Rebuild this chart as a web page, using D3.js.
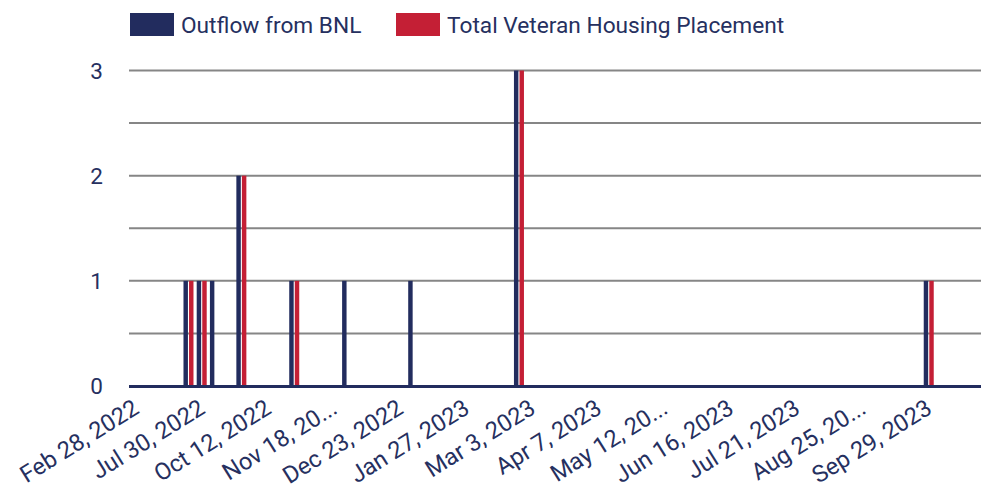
<!DOCTYPE html>
<html>
<head>
<meta charset="utf-8">
<script src="https://cdn.jsdelivr.net/npm/d3@7"></script>
<style>
  html, body { margin: 0; padding: 0; background: #fff; }
  svg { display: block; font-family: Roboto, "Noto Sans", sans-serif; }
</style>
</head>
<body>
<svg id="chart" width="981" height="489"></svg>
<script>
const categories = [
  "Feb 28, 2022","Mar 15, 2022","Apr 20, 2022","May 26, 2022","Jun 30, 2022",
  "Jul 30, 2022","Aug 12, 2022","Aug 26, 2022","Sep 9, 2022","Sep 28, 2022",
  "Oct 12, 2022","Oct 21, 2022","Oct 28, 2022","Nov 4, 2022","Nov 11, 2022",
  "Nov 18, 2022","Nov 25, 2022","Dec 2, 2022","Dec 9, 2022","Dec 16, 2022",
  "Dec 23, 2022","Dec 30, 2022","Jan 6, 2023","Jan 13, 2023","Jan 20, 2023",
  "Jan 27, 2023","Feb 3, 2023","Feb 10, 2023","Feb 17, 2023","Feb 24, 2023",
  "Mar 3, 2023","Mar 10, 2023","Mar 17, 2023","Mar 24, 2023","Mar 31, 2023",
  "Apr 7, 2023","Apr 14, 2023","Apr 21, 2023","Apr 28, 2023","May 5, 2023",
  "May 12, 2023","May 19, 2023","May 26, 2023","Jun 2, 2023","Jun 9, 2023",
  "Jun 16, 2023","Jun 23, 2023","Jun 30, 2023","Jul 7, 2023","Jul 14, 2023",
  "Jul 21, 2023","Jul 28, 2023","Aug 4, 2023","Aug 11, 2023","Aug 18, 2023",
  "Aug 25, 2023","Sep 1, 2023","Sep 8, 2023","Sep 15, 2023","Sep 22, 2023",
  "Sep 29, 2023","Oct 6, 2023","Oct 13, 2023","Oct 20, 2023"
];
const outflowFromBNL = [
  0,0,0,0,1, 1,1,0,2,0, 0,0,1,0,0, 0,1,0,0,0,
  0,1,0,0,0, 0,0,0,0,3, 0,0,0,0,0, 0,0,0,0,0,
  0,0,0,0,0, 0,0,0,0,0, 0,0,0,0,0, 0,0,0,0,0,
  1,0,0,0
];
const totalVeteranHousingPlacement = [
  0,0,0,0,1, 1,0,0,2,0, 0,0,1,0,0, 0,0,0,0,0,
  0,0,0,0,0, 0,0,0,0,3, 0,0,0,0,0, 0,0,0,0,0,
  0,0,0,0,0, 0,0,0,0,0, 0,0,0,0,0, 0,0,0,0,0,
  1,0,0,0
];
const seriesNames = ["Outflow from BNL", "Total Veteran Housing Placement"];
const seriesColors = ["#222c5e", "#c41f35"];
// shown tick labels (every 5th category), as displayed (truncated where long)
const tickCategories = ["Feb 28, 2022","Jul 30, 2022","Oct 12, 2022","Nov 18, 2022","Dec 23, 2022","Jan 27, 2023","Mar 3, 2023","Apr 7, 2023","May 12, 2023","Jun 16, 2023","Jul 21, 2023","Aug 25, 2023","Sep 29, 2023"];
const tickLabels = ["Feb 28, 2022","Jul 30, 2022","Oct 12, 2022","Nov 18, 20...","Dec 23, 2022","Jan 27, 2023","Mar 3, 2023","Apr 7, 2023","May 12, 20...","Jun 16, 2023","Jul 21, 2023","Aug 25, 20...","Sep 29, 2023"];
const yTicks = [0, 1, 2, 3];
const yGrid = [0.5, 1, 1.5, 2, 2.5, 3];

(function () {
const textColor = "#26305f";
const svg = d3.select("#chart");
const pLeft = 129, pRight = 975, gridRight = 981, pTop = 70.5, pBottom = 386;

const x = d3.scaleBand().domain(categories).range([pLeft, pRight]).padding(0);
const y = d3.scaleLinear().domain([0, 3]).range([pBottom, pTop]);
const xSub = d3.scaleBand().domain(seriesNames)
  .range([x.bandwidth() / 2 - 5, x.bandwidth() / 2 + 5]).paddingInner(0.2);

// grid lines
svg.append("g").selectAll("line").data(yGrid).join("line")
  .attr("x1", pLeft).attr("x2", gridRight)
  .attr("y1", d => y(d)).attr("y2", d => y(d))
  .attr("stroke", "#868686").attr("stroke-width", 2);

// y tick labels
svg.append("g").selectAll("text").data(yTicks).join("text")
  .attr("x", 103).attr("y", d => y(d))
  .attr("dy", "0.36em")
  .attr("text-anchor", "end")
  .attr("fill", textColor)
  .attr("font-size", 22.5)
  .text(d => d);

// bars
const rows = categories.map((c, i) => ({
  cat: c,
  vals: [
    { s: seriesNames[0], v: outflowFromBNL[i], color: seriesColors[0] },
    { s: seriesNames[1], v: totalVeteranHousingPlacement[i], color: seriesColors[1] }
  ]
}));
svg.append("g").selectAll("g").data(rows).join("g")
  .attr("transform", d => `translate(${x(d.cat)},0)`)
  .selectAll("rect").data(d => d.vals.filter(v => v.v > 0)).join("rect")
  .attr("x", d => xSub(d.s))
  .attr("width", xSub.bandwidth())
  .attr("y", d => y(d.v))
  .attr("height", d => y(0) - y(d.v))
  .attr("fill", d => d.color);

// baseline
svg.append("line")
  .attr("x1", pLeft).attr("x2", gridRight)
  .attr("y1", y(0) + 0.5).attr("y2", y(0) + 0.5)
  .attr("stroke", "#222c5e").attr("stroke-width", 3);

// x tick labels
svg.append("g").selectAll("text").data(tickCategories).join("text")
  .attr("transform", d => `translate(${x(d) + x.bandwidth() / 2 - 4},${pBottom + 12}) rotate(-32)`)
  .attr("dy", "0.71em")
  .attr("text-anchor", "end")
  .attr("fill", textColor)
  .attr("font-size", 23.6)
  .text((d, i) => tickLabels[i]);

// legend
const legendX = [130, 396];
const lg = svg.append("g").selectAll("g").data(seriesNames).join("g")
  .attr("transform", (d, i) => `translate(${legendX[i]},13)`);
lg.append("rect").attr("width", 44).attr("height", 23)
  .attr("fill", (d, i) => seriesColors[i]);
lg.append("text").attr("x", 51).attr("y", 11.5).attr("dy", "0.36em")
  .attr("fill", textColor).attr("font-size", 22.7)
  .text(d => d);
})();
</script>
</body>
</html>
